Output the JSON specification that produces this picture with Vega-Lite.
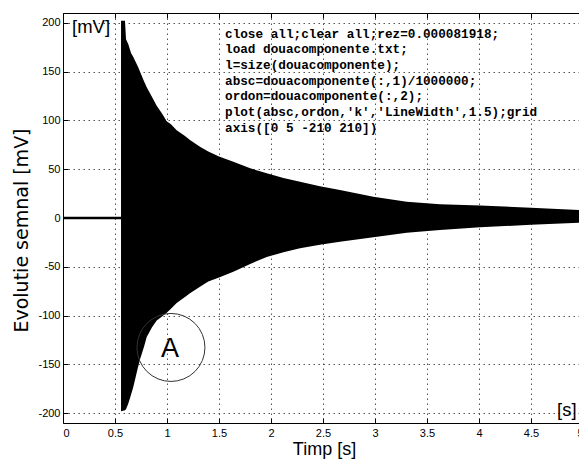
{
  "$schema": "https://vega.github.io/schema/vega-lite/v6.json",
  "width": 516,
  "height": 410,
  "autosize": "none",
  "padding": {"left": 63, "top": 13, "right": 0, "bottom": 36},
  "background": "white",
  "config": {
    "view": {"stroke": null},
    "axis": {
      "labelFont": "Liberation Sans",
      "labelFontSize": 11,
      "labelColor": "black",
      "tickColor": "black",
      "domainColor": "black",
      "domainWidth": 1,
      "tickWidth": 1,
      "gridColor": "#555555",
      "gridDash": [1.5, 3.5],
      "gridWidth": 1,
      "gridOpacity": 1
    }
  },
  "datasets": {
    "envelope": [
      {"t": 0.558, "hi": 202, "lo": -198},
      {"t": 0.596, "hi": 202, "lo": -197},
      {"t": 0.606, "hi": 183, "lo": -196},
      {"t": 0.628, "hi": 178, "lo": -190},
      {"t": 0.654, "hi": 169, "lo": -181},
      {"t": 0.676, "hi": 165, "lo": -173},
      {"t": 0.721, "hi": 155, "lo": -153},
      {"t": 0.74, "hi": 150, "lo": -145},
      {"t": 0.779, "hi": 140, "lo": -132},
      {"t": 0.805, "hi": 134, "lo": -122},
      {"t": 0.856, "hi": 124, "lo": -112},
      {"t": 0.901, "hi": 115, "lo": -105},
      {"t": 0.952, "hi": 107, "lo": -101},
      {"t": 0.997, "hi": 99, "lo": -97},
      {"t": 1.038, "hi": 96, "lo": -93},
      {"t": 1.093, "hi": 90, "lo": -87},
      {"t": 1.173, "hi": 84, "lo": -81},
      {"t": 1.221, "hi": 80, "lo": -77},
      {"t": 1.317, "hi": 73, "lo": -70.5},
      {"t": 1.397, "hi": 68, "lo": -65},
      {"t": 1.5, "hi": 63, "lo": -61},
      {"t": 1.638, "hi": 57.7, "lo": -55},
      {"t": 1.8, "hi": 51, "lo": -47},
      {"t": 1.959, "hi": 45.8, "lo": -40},
      {"t": 2.12, "hi": 41, "lo": -35},
      {"t": 2.279, "hi": 37.2, "lo": -31},
      {"t": 2.47, "hi": 32.5, "lo": -27.5},
      {"t": 2.663, "hi": 28.7, "lo": -24.3},
      {"t": 2.984, "hi": 21.8, "lo": -19.8},
      {"t": 3.305, "hi": 16.7, "lo": -15},
      {"t": 3.625, "hi": 14, "lo": -12.3},
      {"t": 4.01, "hi": 12.8, "lo": -9.5},
      {"t": 4.5, "hi": 10.5, "lo": -7},
      {"t": 5.0, "hi": 8, "lo": -4.6}
    ],
    "flat": [
      {"t": 0, "v": 0},
      {"t": 0.558, "v": 0}
    ]
  },
  "layer": [
    {
      "data": {"name": "envelope"},
      "mark": {"type": "area", "color": "black", "opacity": 1, "clip": true},
      "encoding": {
        "x": {
          "field": "t", "type": "quantitative",
          "scale": {"domain": [0, 5], "range": [0, 520], "nice": false, "zero": false},
          "axis": {
            "orient": "bottom",
            "values": [0, 0.5, 1, 1.5, 2, 2.5, 3, 3.5, 4, 4.5, 5],
            "labelExpr": "'' + datum.value",
            "grid": true,
            "domain": true,
            "tickSize": -5,
            "labelPadding": 9,
            "title": "Timp [s]",
            "titleFont": "Liberation Sans",
            "titleFontSize": 18,
            "titleFontWeight": "normal",
            "titleColor": "black",
            "titleX": 261,
            "titleY": 31,
            "titleAlign": "center",
            "titleBaseline": "alphabetic"
          }
        },
        "y": {
          "field": "hi", "type": "quantitative",
          "scale": {"domain": [-210, 210], "nice": false, "zero": false},
          "axis": {
            "orient": "left",
            "values": [-200, -150, -100, -50, 0, 50, 100, 150, 200],
            "labelExpr": "'' + datum.value",
            "grid": true,
            "domain": true,
            "tickSize": -5,
            "labelPadding": 8,
            "title": "Evolutie semnal [mV]",
            "titleFont": "DejaVu Sans",
            "titleFontSize": 19,
            "titleFontWeight": "normal",
            "titleColor": "black",
            "titleAngle": 270,
            "titleX": -36,
            "titleY": 217,
            "titleAlign": "center",
            "titleBaseline": "alphabetic"
          }
        },
        "y2": {"field": "lo"}
      }
    },
    {
      "data": {"name": "flat"},
      "mark": {"type": "line", "color": "black", "strokeWidth": 2.5},
      "encoding": {
        "x": {
          "field": "t", "type": "quantitative",
          "axis": {
            "orient": "top",
            "values": [0, 0.5, 1, 1.5, 2, 2.5, 3, 3.5, 4, 4.5, 5],
            "labels": false,
            "grid": false,
            "domain": true,
            "tickSize": -5,
            "title": null
          }
        },
        "y": {"field": "v", "type": "quantitative", "axis": null}
      }
    },
    {
      "data": {"values": [{"label": "circle"}]},
      "mark": {"type": "point", "shape": "circle", "filled": false, "size": 4624, "stroke": "#333333", "strokeWidth": 1, "opacity": 1},
      "encoding": {
        "x": {"datum": 1.038, "type": "quantitative", "axis": null},
        "y": {"datum": -132.6, "type": "quantitative", "axis": null}
      }
    },
    {
      "data": {"values": [{"label": "A"}]},
      "mark": {"type": "text", "font": "Liberation Sans", "fontSize": 27, "align": "center", "baseline": "alphabetic", "color": "black"},
      "encoding": {
        "x": {"datum": 1.029, "type": "quantitative", "axis": null},
        "y": {"datum": -142.3, "type": "quantitative", "axis": null},
        "text": {"field": "label", "type": "nominal"}
      }
    },
    {
      "data": {"values": [{"label": "[mV]"}]},
      "mark": {"type": "text", "font": "Liberation Sans", "fontSize": 18.5, "align": "left", "baseline": "alphabetic", "color": "black"},
      "encoding": {
        "x": {"datum": 0.087, "type": "quantitative", "axis": null},
        "y": {"datum": 190, "type": "quantitative", "axis": null},
        "text": {"field": "label", "type": "nominal"}
      }
    },
    {
      "data": {"values": [{"label": "[s]"}]},
      "mark": {"type": "text", "font": "Liberation Sans", "fontSize": 18.5, "align": "left", "baseline": "alphabetic", "color": "black"},
      "encoding": {
        "x": {"datum": 4.75, "type": "quantitative", "axis": null},
        "y": {"datum": -202.8, "type": "quantitative", "axis": null},
        "text": {"field": "label", "type": "nominal"}
      }
    },
    {
      "data": {"values": [{"code": [
        "close all;clear all;rez=0.000081918;",
        "load douacomponente.txt;",
        "l=size(douacomponente);",
        "absc=douacomponente(:,1)/1000000;",
        "ordon=douacomponente(:,2);",
        "plot(absc,ordon,'k','LineWidth',1.5);grid",
        "axis([0 5 -210 210])"
      ]}]},
      "mark": {"type": "text", "font": "Liberation Mono", "fontWeight": "bold", "fontSize": 12.7, "lineHeight": 15.7, "align": "left", "baseline": "alphabetic", "color": "black"},
      "encoding": {
        "x": {"datum": 1.558, "type": "quantitative", "axis": null},
        "y": {"datum": 184.8, "type": "quantitative", "axis": null},
        "text": {"field": "code"}
      }
    }
  ],
  "resolve": {"axis": {"x": "independent", "y": "independent"}}
}
